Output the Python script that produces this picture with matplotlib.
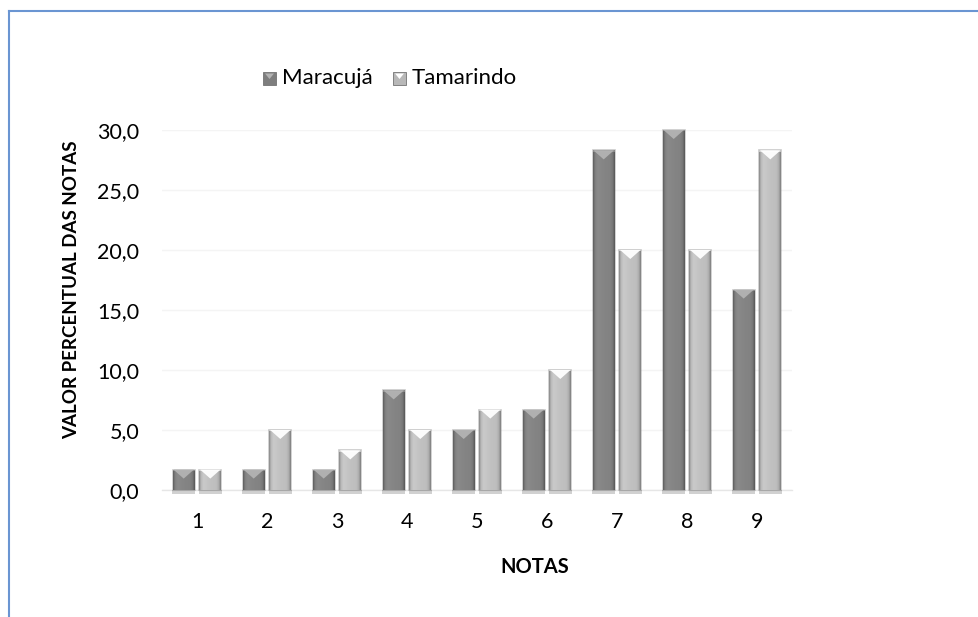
import numpy as np
import matplotlib
matplotlib.use("Agg")
import matplotlib.pyplot as plt
from matplotlib.patches import Rectangle, Polygon
from matplotlib.lines import Line2D
from matplotlib.ticker import FuncFormatter

plt.rcParams['font.family'] = ['Lato', 'DejaVu Sans']

# ---- data ----
categories = ['1', '2', '3', '4', '5', '6', '7', '8', '9']
maracuja = [1.7, 1.7, 1.7, 8.3, 5.0, 6.7, 28.3, 30.0, 16.7]
tamarindo = [1.7, 5.0, 3.3, 5.0, 6.7, 10.0, 20.0, 20.0, 28.3]
series_names = ['Maracujá', 'Tamarindo']
y_ticks = [0, 5, 10, 15, 20, 25, 30]

W, H = 979, 617
fig = plt.figure(figsize=(W / 100, H / 100), dpi=100)
fig.patch.set_facecolor('white')

# plot area in pixels
left_px, right_px, top_px, bottom_px = 162, 792, 130, 490
ax = fig.add_axes([left_px / W, 1 - bottom_px / H,
                   (right_px - left_px) / W, (bottom_px - top_px) / H])

x = np.arange(1, len(categories) + 1)
bw = 0.31
off = 0.19

styles = [
    dict(base=np.array([0.52, 0.52, 0.52]), tri=(0.70, 0.70, 0.70)),
    dict(base=np.array([0.76, 0.76, 0.76]), tri=(1.0, 1.0, 1.0)),
]

px_per_unit = (bottom_px - top_px) / 30.0
tri_h = 9 / px_per_unit

def draw_series(xs, vals, st, z):
    bars = ax.bar(xs, vals, width=bw, color=st['base'], edgecolor=(0.4, 0.4, 0.4, 0.35),
                  linewidth=1.2, zorder=z)
    prof_t = [0.0, 0.08, 0.2, 0.5, 0.8, 0.92, 1.0]
    prof_v = [0.72, 0.95, 1.04, 1.0, 0.98, 0.88, 0.66]
    t = np.linspace(0, 1, 40)
    shade = np.interp(t, prof_t, prof_v)
    for b in bars:
        x0 = b.get_x()
        x1 = x0 + b.get_width()
        h = b.get_height()
        img = np.clip(st['base'][None, None, :] * shade[None, :, None], 0, 1)
        im = ax.imshow(img, extent=[x0, x1, 0, h], aspect='auto', zorder=z + 0.1,
                       interpolation='bilinear')
        im.set_clip_path(b)
        # bevel top highlight
        ax.add_patch(Polygon([[x0 + 0.01, h], [x1 - 0.01, h], [(x0 + x1) / 2, h - tri_h]],
                             closed=True, facecolor=st['tri'], edgecolor='none',
                             zorder=z + 0.2, alpha=0.95))
        ax.add_patch(Rectangle((x0, h - 0.12), x1 - x0, 0.12, facecolor=st['tri'],
                               edgecolor='none', alpha=0.5, zorder=z + 0.2))
        # shadow under the bar
        ax.add_patch(Rectangle((x0 - 0.01, -0.35), x1 - x0 + 0.02, 0.35,
                               facecolor=(0.6, 0.6, 0.6), edgecolor='none', alpha=0.45,
                               zorder=z - 0.1, clip_on=False))
    return bars

draw_series(x - off, maracuja, styles[0], 3)
draw_series(x + off, tamarindo, styles[1], 3)

ax.set_xlim(0.5, len(categories) + 0.5)
ax.set_ylim(0, 30)
ax.set_yticks(y_ticks)
ax.yaxis.set_major_formatter(FuncFormatter(lambda v, p: f"{v:.1f}".replace('.', ',')))
ax.set_xticks(x)
ax.set_xticklabels(categories)
ax.tick_params(axis='both', length=0, labelsize=15.5, colors='black')
ax.tick_params(axis='y', pad=16.5)
ax.tick_params(axis='x', pad=16)
for s in ['top', 'right', 'left']:
    ax.spines[s].set_visible(False)
ax.spines['bottom'].set_color('#e6e6e6')
ax.spines['bottom'].set_linewidth(1)
ax.grid(axis='y', color='#f4f4f4', linewidth=1)
ax.set_axisbelow(True)
for b in ax.patches:
    b.set_clip_on(False)

# axis titles
fig.text(72 / W, 1 - 290 / H, 'VALOR PERCENTUAL DAS NOTAS', rotation=90, ha='center',
         va='center', fontsize=13.5, fontweight='bold')
fig.text(535 / W, 1 - 567 / H, 'NOTAS', ha='center', va='center', fontsize=14.5,
         fontweight='bold')

# legend (manual, in figure pixels)
leg_items = [(263, 282), (393, 412)]
for (mx, tx), name, st in zip(leg_items, series_names, styles):
    fig.add_artist(Rectangle((mx / W, 1 - 85 / H), 13 / W, 13 / H,
                             transform=fig.transFigure, facecolor=st['base'] * 0.95,
                             edgecolor=(0.45, 0.45, 0.45), linewidth=0.6))
    fig.add_artist(Polygon([[(mx + 2) / W, 1 - 73.5 / H], [(mx + 11) / W, 1 - 73.5 / H],
                            [(mx + 6.5) / W, 1 - 79 / H]], closed=True,
                           transform=fig.transFigure, facecolor=st['tri'], edgecolor='none'))
    fig.text(tx / W, 1 - 78 / H, name, ha='left', va='center', fontsize=16)

# outer frame (blue lines at left and top)
fig.add_artist(Line2D([9 / W, 9 / W], [0, 1 - 11 / H], transform=fig.transFigure,
                      color='#6a95d2', linewidth=1.5))
fig.add_artist(Line2D([9 / W, 1], [1 - 11 / H, 1 - 11 / H], transform=fig.transFigure,
                      color='#6a95d2', linewidth=1.5))

fig.savefig('out.png', dpi=100, facecolor='white')
